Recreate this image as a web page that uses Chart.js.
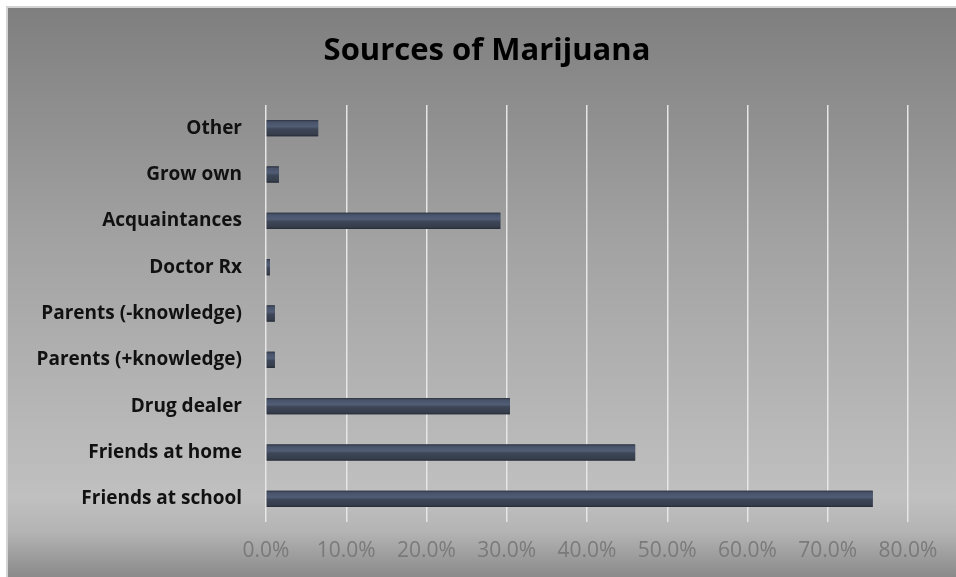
<!DOCTYPE html>
<html>
<head>
<meta charset="utf-8">
<script src="https://cdn.jsdelivr.net/npm/chart.js@4"></script>
<style>
  html, body { margin: 0; padding: 0; background: #fff; }
  #wrap { width: 956px; height: 577px; }
</style>
</head>
<body>
<div id="wrap"><canvas id="sources"></canvas></div>
<script>
const chartTitle = 'Sources of Marijuana';
const sources = ['Other', 'Grow own', 'Acquaintances', 'Doctor Rx', 'Parents (-knowledge)',
                 'Parents (+knowledge)', 'Drug dealer', 'Friends at home', 'Friends at school'];
const percents = [6.5, 1.6, 29.2, 0.5, 1.1, 1.1, 30.4, 46.0, 75.6];
const xTicks = [0, 10, 20, 30, 40, 50, 60, 70, 80];

// gray backdrop with a thin white frame on the top and left, plus the heading
const backdrop = {
  id: 'backdrop',
  beforeDraw(chart) {
    const ctx = chart.ctx, w = chart.width, h = chart.height;
    ctx.save();
    ctx.fillStyle = '#ffffff';
    ctx.fillRect(0, 0, w, h);
    ctx.fillStyle = '#d4d4d4';
    ctx.fillRect(6, 6, w - 6, h - 6);
    const g = ctx.createLinearGradient(0, 8, 0, h);
    g.addColorStop(0, '#7f7f7f');
    g.addColorStop(0.42, '#a3a3a3');
    g.addColorStop(0.86, '#c0c0c0');
    g.addColorStop(0.92, '#b4b4b4');
    g.addColorStop(1, '#8a8a8a');
    ctx.fillStyle = g;
    ctx.fillRect(8, 8, w - 8, h - 8);

    ctx.fillStyle = '#000';
    ctx.font = 'bold 31px "Open Sans"';
    ctx.textAlign = 'center';
    ctx.textBaseline = 'middle';
    ctx.fillText(chartTitle, (w + 18) / 2, 51);
    ctx.restore();
  }
};

// bevelled look on each bar
const bevel = {
  id: 'bevel',
  afterDatasetsDraw(chart) {
    const ctx = chart.ctx;
    chart.getDatasetMeta(0).data.forEach(bar => {
      const p = bar.getProps(['x', 'y', 'base', 'height'], true);
      const top = p.y - p.height / 2, left = Math.min(p.base, p.x), len = Math.abs(p.x - p.base);
      const g = ctx.createLinearGradient(0, top, 0, top + p.height);
      g.addColorStop(0, '#2c3340');
      g.addColorStop(0.12, '#48536a');
      g.addColorStop(0.4, '#515d75');
      g.addColorStop(0.55, '#3d4657');
      g.addColorStop(0.88, '#363e4c');
      g.addColorStop(1, '#252a34');
      ctx.save();
      ctx.fillStyle = g;
      ctx.fillRect(left, top, len, p.height);
      ctx.restore();
    });
  }
};

new Chart(document.getElementById('sources'), {
  type: 'bar',
  data: {
    labels: sources,
    datasets: [{
      data: percents,
      backgroundColor: '#3d4657',
      borderWidth: 0,
      barPercentage: 0.7,
      categoryPercentage: 0.5
    }]
  },
  options: {
    indexAxis: 'y',
    responsive: true,
    maintainAspectRatio: false,
    animation: false,
    layout: { padding: { left: 10, right: 48, top: 105, bottom: 0 } },
    plugins: {
      legend: { display: false },
      tooltip: { enabled: false },
      title: { display: false }
    },
    scales: {
      x: {
        min: 0,
        max: 80,
        afterBuildTicks(scale) { scale.ticks = xTicks.map(v => ({ value: v })); },
        afterFit(scale) { scale.height = 55; },
        ticks: {
          color: '#7a7a7a',
          padding: 16,
          font: { family: 'Open Sans', size: 21 },
          callback: v => v.toFixed(1) + '%'
        },
        grid: { color: '#e6e6e6', lineWidth: 1.5, drawTicks: false },
        border: { display: false }
      },
      y: {
        afterFit(scale) { scale.width = 256; },
        ticks: {
          color: '#111',
          padding: 16,
          font: { family: 'Open Sans', size: 19, weight: 'bold' }
        },
        grid: { display: false },
        border: { display: false }
      }
    }
  },
  plugins: [backdrop, bevel]
});
</script>
</body>
</html>
